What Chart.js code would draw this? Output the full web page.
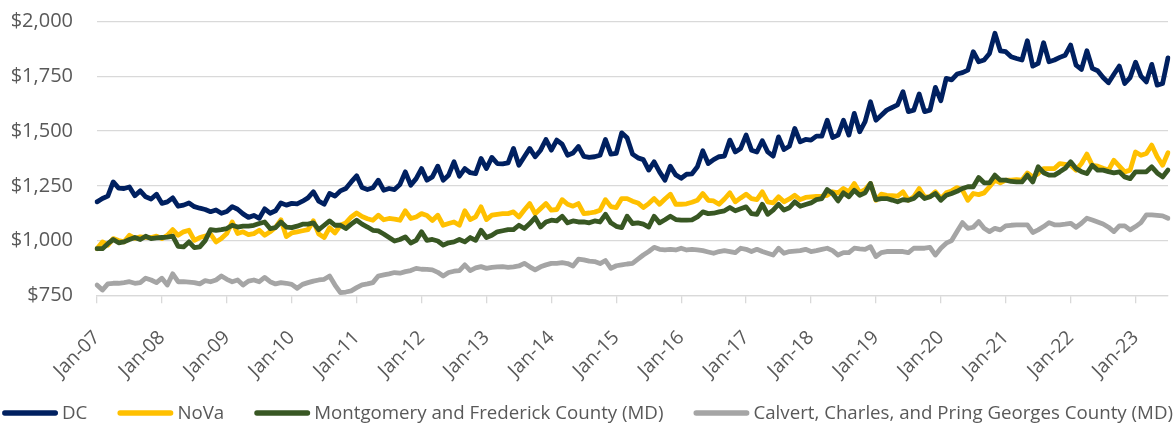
<!DOCTYPE html>
<html>
<head>
<meta charset="utf-8">
<script src="https://cdn.jsdelivr.net/npm/chart.js@4.4.1/dist/chart.umd.min.js"></script>
<style>
  html, body { margin: 0; padding: 0; background: #fff; }
  canvas { display: block; }
</style>
</head>
<body>
<canvas id="rentChart" width="1175" height="424"></canvas>
<script>
// monthly rents, Jan-07 .. Jul-23
const dc = [
  1177, 1192, 1203, 1268, 1240, 1238, 1245, 1205, 1227, 1200,
  1190, 1212, 1170, 1177, 1195, 1157, 1162, 1172, 1155, 1148,
  1142, 1132, 1140, 1125, 1133, 1155, 1143, 1122, 1106, 1115,
  1102, 1145, 1125, 1136, 1172, 1162, 1170, 1168, 1180, 1195,
  1223, 1180, 1166, 1215, 1203, 1227, 1238, 1268, 1296, 1242,
  1233, 1241, 1276, 1230, 1238, 1233, 1256, 1314, 1253, 1283,
  1329, 1276, 1291, 1340, 1276, 1299, 1360, 1294, 1329, 1310,
  1306, 1375, 1329, 1380, 1352, 1350, 1355, 1421, 1344, 1383,
  1421, 1383, 1413, 1462, 1413, 1459, 1440, 1390, 1400, 1430,
  1385, 1380, 1383, 1390, 1462, 1395, 1398, 1492, 1470, 1395,
  1378, 1370, 1322, 1360, 1314, 1276, 1340, 1300, 1285, 1303,
  1305, 1337, 1410, 1352, 1370, 1383, 1386, 1459, 1405, 1421,
  1482, 1413, 1405, 1456, 1405, 1386, 1474, 1416, 1431, 1512,
  1451, 1462, 1459, 1477, 1477, 1550, 1471, 1482, 1550, 1482,
  1581, 1497, 1543, 1634, 1550, 1573, 1596, 1608, 1620, 1680,
  1589, 1596, 1670, 1589, 1596, 1700, 1639, 1741, 1734, 1761,
  1767, 1779, 1863, 1817, 1825, 1855, 1947, 1867, 1863, 1840,
  1832, 1825, 1913, 1797, 1810, 1904, 1817, 1825, 1837, 1847,
  1893, 1802, 1782, 1867, 1787, 1776, 1745, 1721, 1760, 1797,
  1718, 1745, 1815, 1751, 1725, 1805, 1710, 1718, 1835
];
const nova = [
  963, 994, 979, 1009, 1000, 994, 1024, 1010, 1017, 1015,
  1014, 1020, 1009, 1024, 1050, 1024, 1040, 1047, 1001, 1014,
  1020, 1030, 994, 1010, 1032, 1085, 1032, 1040, 1027, 1032,
  1047, 1024, 1040, 1060, 1095, 1018, 1035, 1040, 1045, 1050,
  1090, 1030, 1014, 1059, 1035, 1070, 1081, 1108, 1126, 1110,
  1100, 1093, 1116, 1095, 1101, 1098, 1093, 1136, 1101, 1108,
  1123, 1115, 1092, 1116, 1070, 1078, 1085, 1070, 1136, 1096,
  1108, 1154, 1096, 1116, 1120, 1123, 1123, 1131, 1108, 1140,
  1169, 1123, 1146, 1169, 1139, 1142, 1187, 1166, 1157, 1169,
  1123, 1126, 1130, 1139, 1187, 1155, 1151, 1192, 1192, 1180,
  1172, 1151, 1169, 1192, 1166, 1190, 1212, 1166, 1166, 1168,
  1175, 1184, 1215, 1184, 1181, 1166, 1190, 1218, 1177, 1195,
  1212, 1192, 1187, 1223, 1177, 1172, 1200, 1177, 1190, 1207,
  1187, 1197, 1200, 1202, 1203, 1207, 1223, 1218, 1238, 1223,
  1261, 1220, 1233, 1261, 1184, 1212, 1207, 1205, 1203, 1223,
  1184, 1200, 1238, 1200, 1200, 1223, 1192, 1218, 1227, 1242,
  1230, 1184, 1215, 1210, 1218, 1246, 1276, 1264, 1276, 1276,
  1278, 1276, 1309, 1291, 1306, 1329, 1329, 1329, 1352, 1348,
  1344, 1322, 1352, 1395, 1344, 1340, 1330, 1322, 1367, 1340,
  1314, 1322, 1405, 1390, 1398, 1436, 1383, 1344, 1401
];
const montgomery = [
  963, 963, 986, 1005, 990, 994, 1005, 1014, 1005, 1020,
  1009, 1012, 1014, 1016, 1020, 974, 971, 994, 968, 971,
  1000, 1050, 1047, 1050, 1055, 1070, 1062, 1066, 1066, 1070,
  1078, 1085, 1055, 1059, 1085, 1062, 1059, 1066, 1075, 1075,
  1081, 1050, 1070, 1090, 1070, 1070, 1055, 1075, 1093, 1075,
  1062, 1047, 1044, 1030, 1014, 998, 1005, 1017, 989, 1001,
  1040, 1001, 1005, 998, 979, 990, 994, 1005, 994, 1014,
  1001, 1047, 1014, 1024, 1040, 1045, 1050, 1050, 1070, 1055,
  1078, 1105, 1062, 1085, 1093, 1090, 1111, 1081, 1090, 1085,
  1085, 1081, 1090, 1085, 1120, 1081, 1065, 1059, 1111, 1078,
  1081, 1075, 1062, 1111, 1081, 1095, 1111, 1096, 1093, 1093,
  1095, 1108, 1131, 1123, 1125, 1131, 1136, 1151, 1136, 1145,
  1154, 1123, 1120, 1166, 1120, 1139, 1166, 1139, 1150, 1177,
  1157, 1165, 1172, 1187, 1192, 1233, 1215, 1181, 1218, 1200,
  1230, 1207, 1218, 1261, 1187, 1192, 1192, 1185, 1177, 1187,
  1184, 1192, 1215, 1192, 1200, 1215, 1184, 1207, 1215, 1225,
  1238, 1246, 1246, 1288, 1264, 1264, 1299, 1276, 1276, 1270,
  1268, 1268, 1299, 1268, 1337, 1310, 1299, 1299, 1314, 1330,
  1360, 1329, 1315, 1306, 1344, 1322, 1322, 1315, 1309, 1314,
  1291, 1283, 1314, 1314, 1314, 1337, 1309, 1291, 1322
];
const southernMd = [
  797, 774, 802, 805, 805, 808, 812, 805, 808, 828,
  820, 808, 828, 797, 848, 812, 812, 810, 808, 802,
  817, 812, 820, 838, 823, 812, 820, 797, 815, 820,
  812, 832, 812, 802, 808, 805, 800, 782, 800, 808,
  815, 820, 823, 838, 797, 762, 765, 770, 785, 798,
  802, 808, 838, 843, 848, 854, 851, 858, 863, 873,
  869, 868, 866, 855, 838, 854, 860, 863, 889, 863,
  875, 881, 873, 878, 880, 881, 878, 880, 884, 896,
  880, 866, 880, 889, 896, 896, 899, 895, 884, 915,
  912, 906, 904, 895, 909, 873, 885, 889, 893, 896,
  915, 934, 950, 969, 960, 957, 960, 957, 965, 957,
  960, 958, 954, 948, 942, 950, 954, 950, 945, 965,
  960, 950, 960, 950, 942, 934, 965, 942, 950, 952,
  954, 960, 950, 954, 960, 965, 954, 934, 945, 945,
  965, 962, 960, 972, 927, 945, 950, 950, 950, 950,
  945, 965, 965, 965, 969, 934, 965, 988, 1000, 1041,
  1082, 1056, 1061, 1087, 1056, 1041, 1056, 1049, 1067, 1070,
  1072, 1072, 1072, 1037, 1049, 1064, 1082, 1072, 1072, 1075,
  1079, 1061, 1079, 1102, 1094, 1085, 1076, 1061, 1041, 1067,
  1067, 1049, 1064, 1082, 1117, 1117, 1115, 1113, 1102
];

const seriesNames = [
  'DC',
  'NoVa',
  'Montgomery and Frederick County (MD)',
  'Calvert, Charles, and Pring Georges County (MD)'
];
const seriesColors = ['#002060', '#FFC000', '#385723', '#A5A5A5'];

const monthNames = ['Jan', 'Feb', 'Mar', 'Apr', 'May', 'Jun', 'Jul', 'Aug', 'Sep', 'Oct', 'Nov', 'Dec'];
const startYear = 2007;
const months = dc.map((v, i) => {
  const yy = String((startYear + Math.floor(i / 12)) % 100).padStart(2, '0');
  return monthNames[i % 12] + '-' + yy;
});

const yMin = 750, yMax = 2000, yStep = 250;

const textGray = '#595959';
const gridGray = '#D9D9D9';

// legend drawn as one row under the axis, like the original
const legendRow = {
  id: 'legendRow',
  afterDraw(chart) {
    const ctx = chart.ctx;
    const sets = chart.data.datasets;
    const lineLen = 56, gapText = 4, gapItem = 30;
    ctx.save();
    ctx.font = '18.7px "Open Sans"';
    const widths = sets.map(d => ctx.measureText(d.label).width);
    const total = widths.reduce((a, w) => a + lineLen + gapText + w, 0) + gapItem * (sets.length - 1);
    let x = (chart.width - total) / 2;
    const y = 413;
    sets.forEach((d, i) => {
      ctx.strokeStyle = d.borderColor;
      ctx.lineWidth = 5.3;
      ctx.lineCap = 'round';
      ctx.beginPath();
      ctx.moveTo(x + 2.7, y);
      ctx.lineTo(x + lineLen - 2.7, y);
      ctx.stroke();
      ctx.fillStyle = textGray;
      ctx.textBaseline = 'middle';
      ctx.textAlign = 'left';
      ctx.fillText(d.label, x + lineLen + gapText, y + 1);
      x += lineLen + gapText + widths[i] + gapItem;
    });
    ctx.restore();
  }
};

const seriesData = [dc, nova, montgomery, southernMd];

const ctx = document.getElementById('rentChart').getContext('2d');
new Chart(ctx, {
  type: 'line',
  data: {
    labels: months,
    datasets: seriesData.map((vals, i) => ({
      label: seriesNames[i],
      data: vals,
      borderColor: seriesColors[i],
      backgroundColor: seriesColors[i],
      borderWidth: 4.8,
      borderJoinStyle: 'round',
      borderCapStyle: 'round',
      pointRadius: 0,
      tension: 0,
      order: seriesData.length - i   // later series sit on top
    }))
  },
  options: {
    responsive: false,
    animation: false,
    devicePixelRatio: 1,
    layout: {
      padding: { top: 21.7, right: 7, bottom: 0, left: 0 }
    },
    plugins: {
      legend: { display: false },
      tooltip: { enabled: false }
    },
    scales: {
      x: {
        offset: false,
        grid: {
          drawOnChartArea: false,
          drawTicks: true,
          tickLength: 8,
          color: gridGray,
          lineWidth: 1.3
        },
        border: { display: true, color: gridGray, width: 1.3 },
        ticks: {
          autoSkip: false,
          minRotation: 45,
          maxRotation: 45,
          padding: 23,
          color: textGray,
          font: { family: '"Open Sans"', size: 19.3 },
          callback: function (value, index) {
            return index % 12 === 0 ? this.getLabelForValue(value) : null;
          }
        },
        afterFit(scale) {
          scale.height = 128.7;
          scale.paddingLeft = 0;
          scale.paddingRight = 0;
        }
      },
      y: {
        min: yMin,
        max: yMax,
        grid: {
          color: gridGray,
          lineWidth: 1.3,
          drawTicks: false
        },
        border: { display: false },
        ticks: {
          stepSize: yStep,
          padding: 24,
          color: textGray,
          font: { family: '"Open Sans"', size: 20 },
          callback: (v) => '$' + v.toLocaleString('en-US')
        },
        afterFit(scale) {
          scale.width = 97;
          scale.paddingTop = 0;
          scale.paddingBottom = 0;
        }
      }
    }
  },
  plugins: [legendRow]
});
</script>
</body>
</html>
